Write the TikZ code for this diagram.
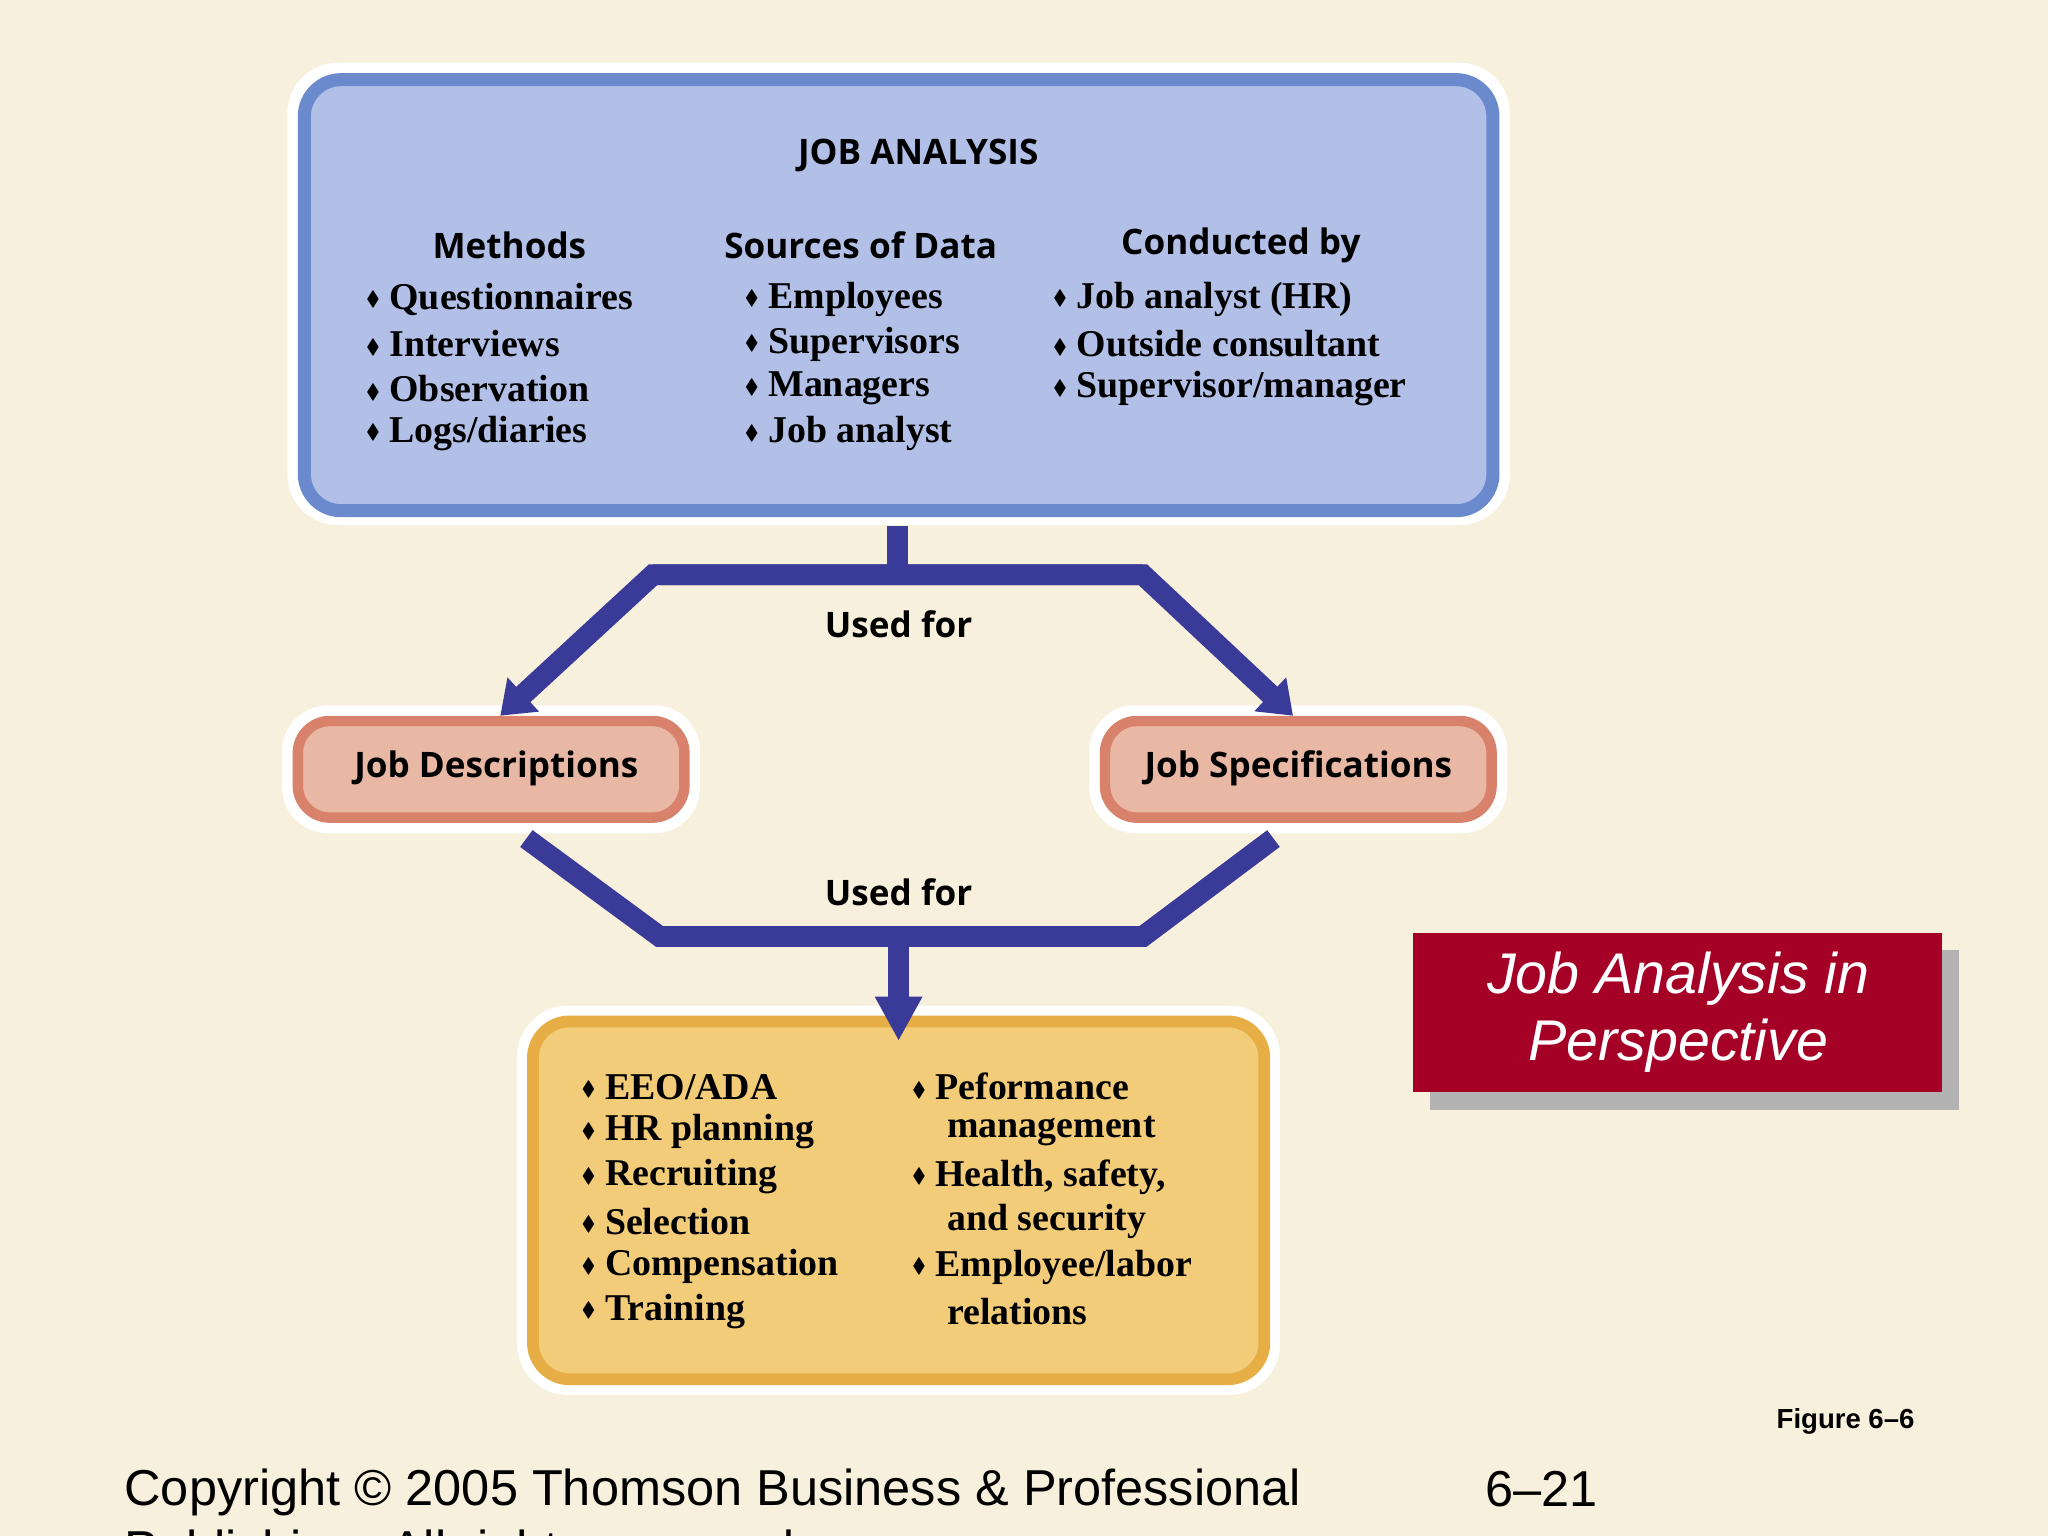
\documentclass[tikz,border=0pt]{standalone}
\usepackage{amssymb}
\usepackage{fontspec}
\setmainfont{Liberation Serif}
\setsansfont{Open Sans}
\newfontfamily\arialf{Liberation Sans}
\usetikzlibrary{arrows.meta}
\definecolor{bg}{HTML}{F7F0DC}
\definecolor{bluein}{HTML}{B2C0E8}
\definecolor{blueedge}{HTML}{6A8ACD}
\definecolor{pinkin}{HTML}{E8B8A4}
\definecolor{pinkedge}{HTML}{D8826C}
\definecolor{orin}{HTML}{F2CC78}
\definecolor{oredge}{HTML}{E6AE44}
\definecolor{conn}{HTML}{3A3A98}
\definecolor{redbox}{HTML}{A50026}
\tikzset{
 bul/.style={anchor=west,font=\bfseries\fontsize{16.5}{18}\selectfont,inner sep=0},
 hdr/.style={font=\sffamily\bfseries\fontsize{15.3}{18}\selectfont},
 conline/.style={conn,line width=16*0.02cm,line join=miter},
}
\newcommand{\dia}{\raisebox{0.2ex}{\scalebox{0.55}{$\blacklozenge$}}}
\begin{document}
\begin{tikzpicture}[x=0.02cm,y=-0.02cm]
\useasboundingbox (0,0) rectangle (1568,1176);
\clip (0,0) rectangle (1568,1176);
\fill[bg] (0,0) rectangle (1568,1176);
% top box
\fill[white,rounded corners=22] (220,48) rectangle (1156,402);
\draw[blueedge,line width=10*0.02cm,fill=bluein,rounded corners=16] (233,61) rectangle (1143,391);
\node[hdr] (ja) at (703,119) {JOB ANALYSIS};
\node[hdr] (h1) at (390,188) {Methods};
\node[hdr] (h2) at (659,188) {Sources of Data};
\node[hdr] (h3) at (950,188) {Conducted by};
\foreach \t [count=\i] in {Questionnaires,Interviews,Observation,Logs/diaries}
  \node[bul] (m\i) at (280,229+34.3*\i-34.3) {\dia\ \t};
\foreach \t [count=\i] in {Employees,Supervisors,Managers,Job analyst}
  \node[bul] (s\i) at (570,229+34.3*\i-34.3) {\dia\ \t};
\foreach \t [count=\i] in {Job analyst (HR),Outside consultant,Supervisor/manager}
  \node[bul] (c\i) at (806,229+34.3*\i-34.3) {\dia\ \t};
% pink boxes
\fill[white,rounded corners=20] (216,540) rectangle (536,638);
\draw[pinkedge,line width=8*0.02cm,fill=pinkin,rounded corners=14] (228,552) rectangle (524,626);
\node[hdr] (jd) at (380,588) {Job Descriptions};
\fill[white,rounded corners=20] (834,540) rectangle (1154,638);
\draw[pinkedge,line width=8*0.02cm,fill=pinkin,rounded corners=14] (846,552) rectangle (1142,626);
\node[hdr] (js) at (994,588) {Job Specifications};
% connectors top
\coordinate (t0) at (687,403);
\coordinate (tl) at (500,440);
\coordinate (tr) at (875,440);
\draw[conline] (t0) -- (687,440);
\draw[conline,-{Triangle[width=34*0.02cm,length=24*0.02cm]}] (tr) -- (tl) -- (383,548);
\draw[conline,-{Triangle[width=34*0.02cm,length=24*0.02cm]}] (tl) -- (tr) -- (990,548);
\node[hdr] (u1) at (688,478) {Used for};
% orange box
\fill[white,rounded corners=22] (396,770) rectangle (980,1068);
\draw[oredge,line width=9*0.02cm,fill=orin,rounded corners=16] (408,782) rectangle (968,1056);
% lower connectors
\coordinate (bl) at (505,717);
\coordinate (br) at (875,717);
\draw[conline] (403,642) -- (bl) -- (br) -- (975,642);
\draw[conline,-{Triangle[width=34*0.02cm,length=34*0.02cm]}] (688,717) -- (688,797);
\node[hdr] (u2) at (688,683) {Used for};
\foreach \t [count=\i] in {EEO/ADA,HR planning,Recruiting,Selection,Compensation,Training}
  \node[bul] (o\i) at (445,832+34.4*\i-34.4) {\dia\ \t};
\node[bul] (p1) at (698,832) {\dia\ Peformance};
\node[bul] (p2) at (725,866) {management};
\node[bul] (p3) at (698,901) {\dia\ Health, safety,};
\node[bul] (p4) at (725,935) {and security};
\node[bul] (p5) at (698,970) {\dia\ Employee/labor};
\node[bul] (p6) at (725,1004) {relations};
% red box
\fill[gray!60] (1095,727) rectangle (1500,850);
\fill[redbox] (1082,714) rectangle (1487,836);
\node[white,font=\arialf\itshape\fontsize{25}{29}\selectfont,align=center] (rt) at (1285,775) {Job Analysis in\\Perspective};
\node[font=\arialf\bfseries\fontsize{12}{14}\selectfont] (fig) at (1413,1088) {Figure 6–6};
\node[anchor=west,font=\arialf\fontsize{22}{27}\selectfont,align=left,inner sep=0] (cp) at (95,1166) {Copyright © 2005 Thomson Business \& Professional\\Publishing. All rights reserved.};
\node[anchor=west,font=\arialf\fontsize{22}{27}\selectfont,inner sep=0] (pg) at (1137,1140) {6–21};
\end{tikzpicture}
\end{document}
